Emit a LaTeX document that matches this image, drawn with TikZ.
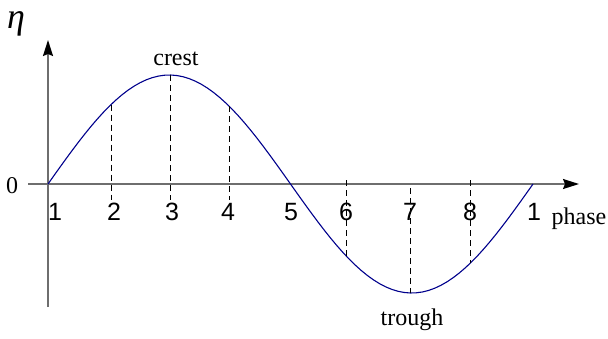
\documentclass[tikz,border=0pt]{standalone}
\usepackage{fontspec}
\setmainfont{Liberation Serif}
\newfontfamily\digitfont{Liberation Sans}
\usetikzlibrary{arrows.meta}
\definecolor{axisgray}{RGB}{110,110,110}
\definecolor{wavenavy}{RGB}{0,0,140}
\tikzset{
  axis/.style={draw=axisgray, line width=0.8pt, -{Stealth[length=8pt,width=5pt,inset=1pt,black]}},
  wave/.style={draw=wavenavy, line width=0.55pt},
  guide/.style={line width=0.4pt, dash pattern=on 3pt off 2pt},
  phaselabel/.style={font=\digitfont\fontsize{12.5}{14}\selectfont, inner sep=1pt},
  tag/.style={font=\fontsize{12}{14}\selectfont, inner sep=1pt}
}
\begin{document}
\begin{tikzpicture}[x=0.5pt,y=-0.5pt]
  \useasboundingbox (0,0) rectangle (608,338);
  % axes
  \coordinate (xstart) at (28,184);
  \coordinate (xend) at (579,184);
  \coordinate (ystart) at (48,307);
  \coordinate (yend) at (48,40);
  \draw[axis] (xstart) -- (xend);
  \draw[axis] (ystart) -- (yend);
  % one period of the wave
  \draw[wave] plot[domain=48:533,samples=80] (\x,{184-109*sin((\x-48)*0.742268)});
  % dashed guides
  \foreach \x in {111,170,229}
    \draw[guide] (\x,{184-109*sin((\x-48)*0.742268)}) -- (\x,200);
  \foreach \x/\y in {346/180,410/188,470/180}
    \draw[guide] (\x,\y) -- (\x,{184-109*sin((\x-48)*0.742268)});
  % phase numbers
  \foreach \n/\x in {1/55,2/114,3/172,4/228,5/291,6/346,7/410,8/470}
    \node[phaselabel] (p\n) at (\x,212) {\n};
  \node[phaselabel] (p9) at (534,212) {1};
  % texts
  \node[font=\itshape\fontsize{18}{20}\selectfont, inner sep=0pt] (eta) at (16,24) {η};
  \node[tag] (zero) at (12,186) {0};
  \node[tag] (phase) at (579,219) {phase};
  \node[tag] (crest) at (176,59) {crest};
  \node[tag] (trough) at (412,320) {trough};
\end{tikzpicture}
\end{document}
